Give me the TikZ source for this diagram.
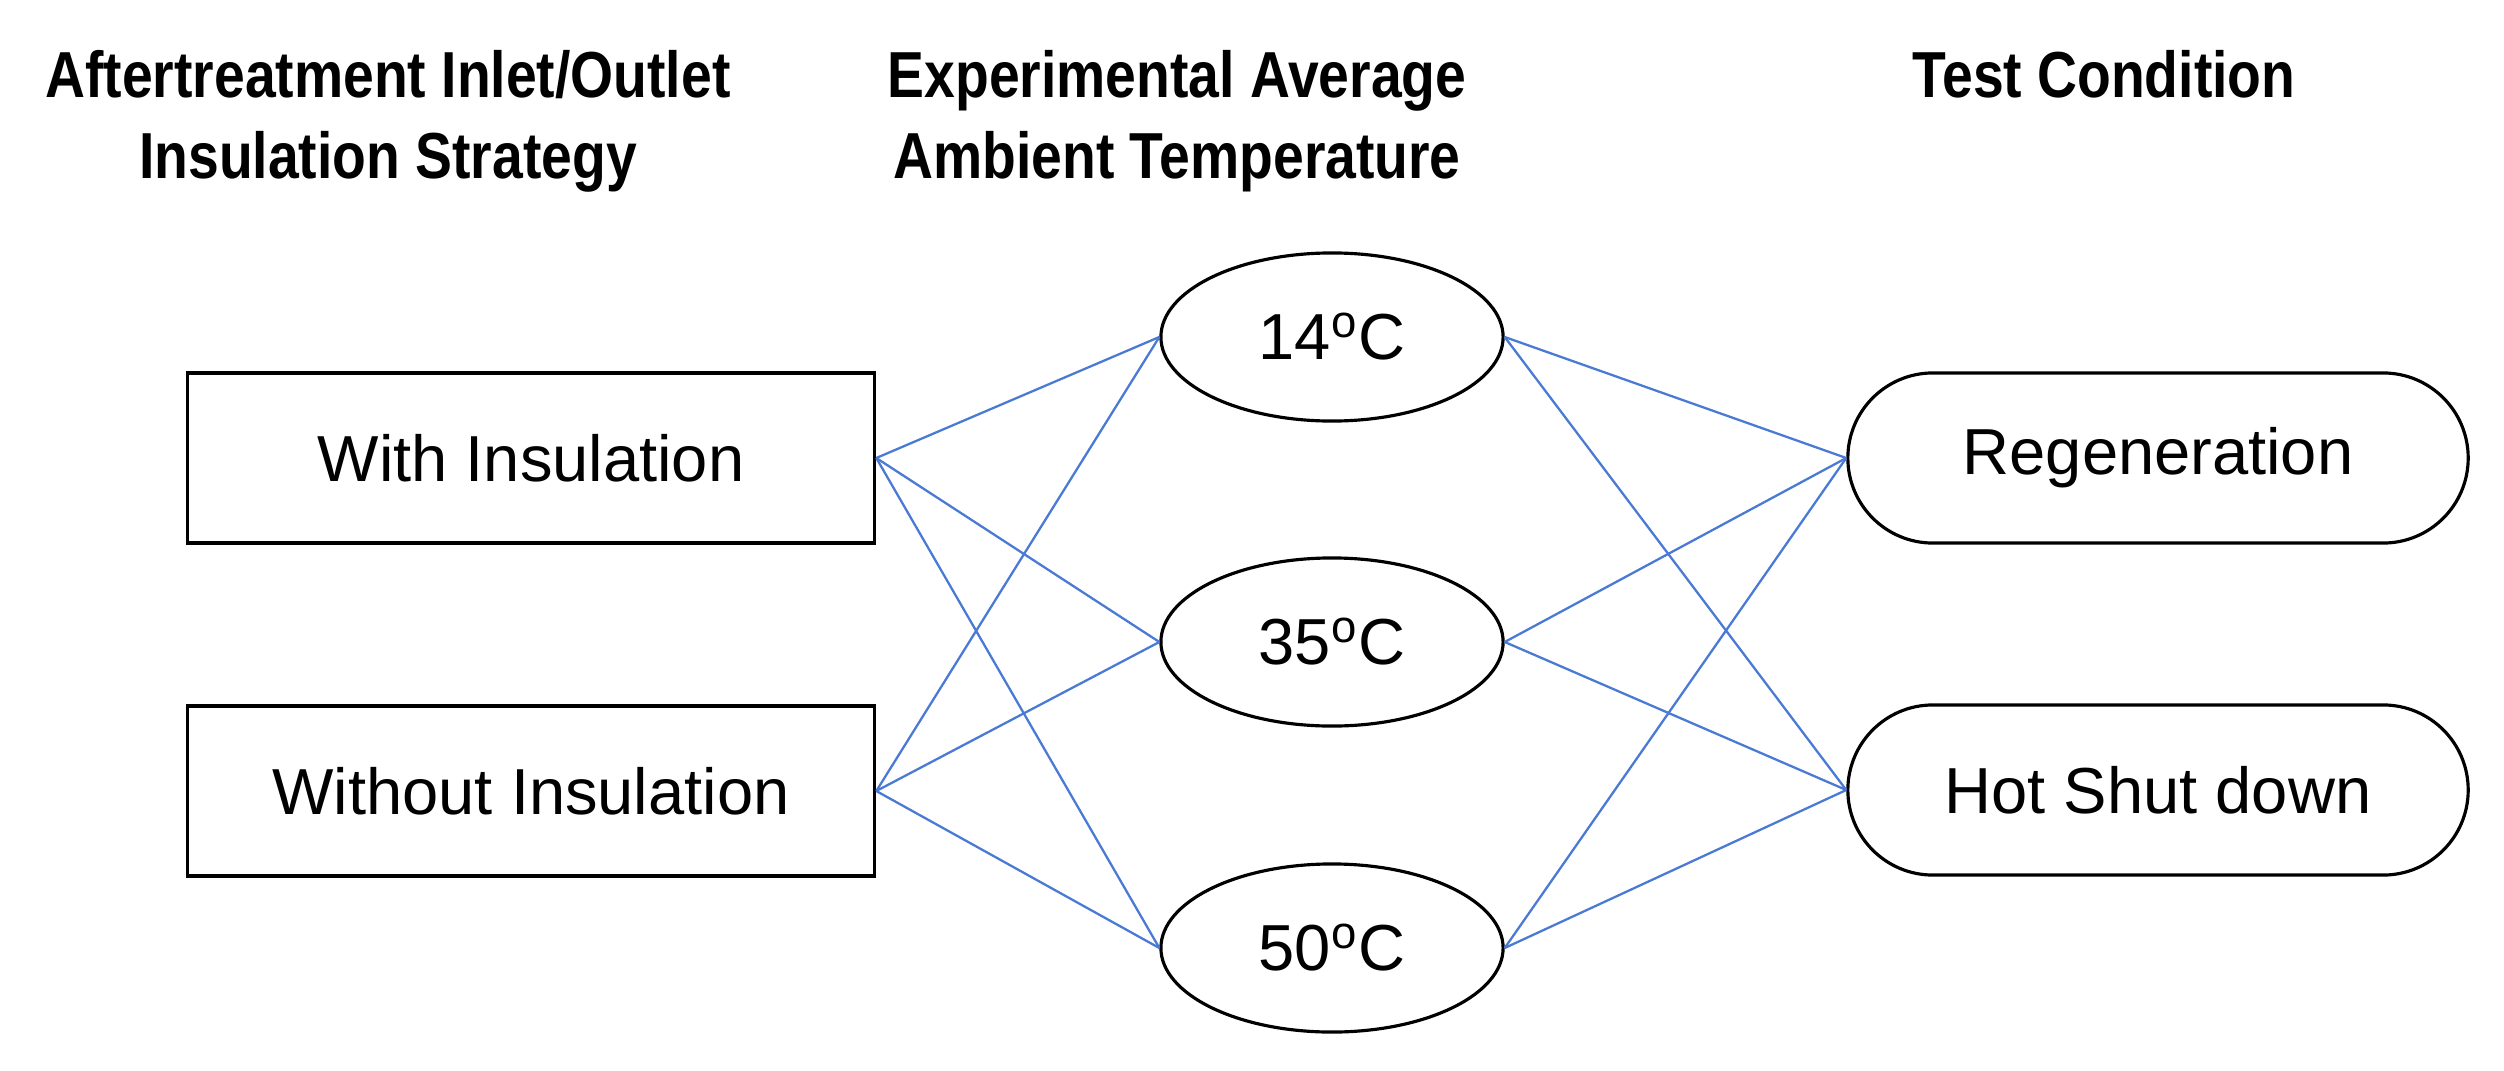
\documentclass[tikz,border=0pt]{standalone}
\usepackage{fontspec}
\setmainfont{Liberation Sans}
\newfontfamily\headfont[FakeStretch=0.85]{Liberation Sans}
\definecolor{linkblue}{RGB}{74, 122, 212}
\usepackage{tikz}
\usetikzlibrary{shapes.geometric}

\begin{document}
\begin{tikzpicture}[x=0.01cm, y=-0.01cm,
  bodyfont/.style={font=\fontsize{18.5}{22}\selectfont},
  strategy/.style={draw, line width=0.9pt, minimum width=6.87cm, minimum height=1.70cm, inner sep=0pt, bodyfont},
  temp/.style={draw, ellipse, line width=0.9pt, minimum width=3.42cm, minimum height=1.68cm, inner sep=0pt, bodyfont},
  cond/.style={draw, rounded corners=0.85cm, line width=0.9pt, minimum width=6.2cm, minimum height=1.70cm, inner sep=0pt, bodyfont},
  heading/.style={font=\headfont\bfseries\fontsize{18.5}{22.8}\selectfont, align=center, anchor=north, inner sep=0pt},
  link/.style={draw=linkblue, line width=0.65pt}]
  \useasboundingbox (0, 0) rectangle (2504, 1070);

  % Column headings
  \node[heading] (hstrat) at (388, 50) {Aftertreatment Inlet/Outlet\\Insulation Strategy};
  \node[heading] (htemp) at (1177, 50) {Experimental Average\\Ambient Temperature};
  \node[heading] (hcond) at (2104, 50) {Test Condition};

  % Insulation strategy
  \node[strategy] (with) at (531, 458) {With Insulation};
  \node[strategy] (without) at (531, 791) {Without Insulation};

  % Ambient temperature
  \node[temp] (t14) at (1332, 337) {14\textsuperscript{o}C};
  \node[temp] (t35) at (1332, 642) {35\textsuperscript{o}C};
  \node[temp] (t50) at (1332, 948) {50\textsuperscript{o}C};

  % Test condition
  \node[cond] (regen) at (2158, 458) {Regeneration};
  \node[cond] (hsd) at (2158, 790) {Hot Shut down};

  % Links: strategy to temperature
  \draw[link] (with.east) -- (t14.west);
  \draw[link] (with.east) -- (t35.west);
  \draw[link] (with.east) -- (t50.west);
  \draw[link] (without.east) -- (t14.west);
  \draw[link] (without.east) -- (t35.west);
  \draw[link] (without.east) -- (t50.west);

  % Links: temperature to test condition
  \draw[link] (t14.east) -- (regen.west);
  \draw[link] (t14.east) -- (hsd.west);
  \draw[link] (t35.east) -- (regen.west);
  \draw[link] (t35.east) -- (hsd.west);
  \draw[link] (t50.east) -- (regen.west);
  \draw[link] (t50.east) -- (hsd.west);
\end{tikzpicture}
\end{document}
